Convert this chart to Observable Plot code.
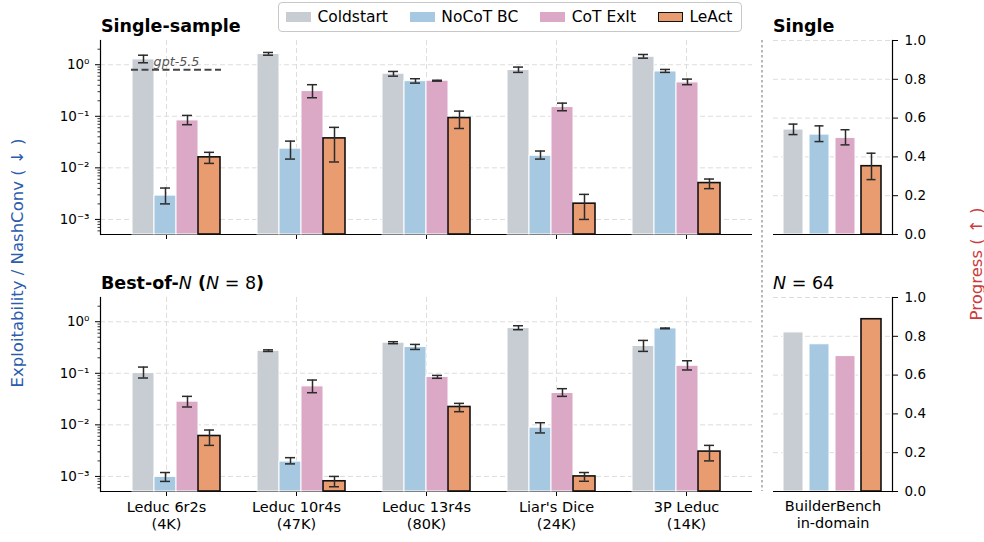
<!DOCTYPE html>
<html><head><meta charset="utf-8">
<script src="https://cdn.jsdelivr.net/npm/d3@7"></script>
<script src="https://cdn.jsdelivr.net/npm/@observablehq/plot@0.6"></script>
<style>
body{margin:0;background:#fff;}
#fig{position:relative;width:984px;height:542px;font-family:"DejaVu Sans",sans-serif;overflow:hidden;background:#fff;color:#000;}
.layer{position:absolute;}
.title{position:absolute;font-size:17.5px;line-height:18px;white-space:nowrap;}
.ylab{position:absolute;font-size:16.5px;white-space:nowrap;transform:translate(-50%,-50%) rotate(-90deg);}
#legend{position:absolute;left:278px;top:2px;width:464px;height:30px;border:1px solid #c8c8c8;border-radius:4px;display:flex;align-items:center;box-sizing:border-box;padding-left:7px;font-size:15.5px;white-space:nowrap;}
.sw{width:25px;height:9.5px;margin-right:6.4px;box-sizing:border-box;flex-shrink:0;}
.it{display:flex;align-items:center;margin-right:22px;flex-shrink:0;white-space:nowrap;}
.it:last-child{margin-right:0;}
</style></head><body><div id="fig"></div>
<script>
// ---------- data ----------
const groups = ["Leduc 6r2s", "Leduc 10r4s", "Leduc 13r4s", "Liar's Dice", "3P Leduc"];
const groupSizes = ["4K", "47K", "80K", "24K", "14K"];
const series = ["Coldstart", "NoCoT BC", "CoT ExIt", "LeAct"];
const seriesColors = ["#c8cdd4", "#a6c9e1", "#dba8c5", "#e99c70"];

// Single-sample (per series, per group)
const singleValue = [
  [1.27, 1.62, 0.67, 0.79, 1.43],
  [2.9e-3, 0.0236, 0.48, 0.0172, 0.741],
  [0.0833, 0.308, 0.49, 0.151, 0.454],
  [0.016, 0.0373, 0.0924, 2.02e-3, 5.07e-3]
];
const singleLo = [
  [1.09, 1.53, 0.60, 0.71, 1.34],
  [2.0e-3, 0.0148, 0.44, 0.0148, 0.71],
  [0.0687, 0.229, 0.48, 0.128, 0.41],
  [0.0122, 0.013, 0.058, 1.0e-3, 3.95e-3]
];
const singleHi = [
  [1.53, 1.73, 0.74, 0.90, 1.58],
  [4.06e-3, 0.033, 0.535, 0.0212, 0.81],
  [0.104, 0.41, 0.50, 0.18, 0.526],
  [0.020, 0.061, 0.126, 3.06e-3, 6.07e-3]
];
// Best-of-N (N=8)
const bestValue = [
  [0.101, 0.274, 0.392, 0.753, 0.338],
  [9.8e-4, 1.94e-3, 0.323, 8.83e-3, 0.742],
  [0.0282, 0.0558, 0.0847, 0.0415, 0.140],
  [6.08e-3, 8.05e-4, 0.0222, 1.0e-3, 3.03e-3]
];
const bestLo = [
  [0.081, 0.265, 0.375, 0.70, 0.266],
  [8.0e-4, 1.75e-3, 0.29, 6.97e-3, 0.73],
  [0.0222, 0.042, 0.080, 0.0357, 0.116],
  [4.0e-3, 6.3e-4, 0.018, 8.05e-4, 2.0e-3]
];
const bestHi = [
  [0.132, 0.285, 0.41, 0.836, 0.434],
  [1.19e-3, 2.31e-3, 0.363, 0.011, 0.755],
  [0.0357, 0.074, 0.091, 0.0503, 0.175],
  [7.94e-3, 1.0e-3, 0.0261, 1.19e-3, 4.0e-3]
];
const gptSingle = 0.80;   // gpt-5.5 reference, Leduc 6r2s

// BuilderBench in-domain progress (per series)
const builderSingle = [0.541, 0.515, 0.498, 0.352];
const builderSingleLo = [0.515, 0.479, 0.462, 0.283];
const builderSingleHi = [0.569, 0.560, 0.540, 0.419];
const builderN64 = [0.820, 0.759, 0.698, 0.888];

const yLogTicks = [1e-3, 1e-2, 1e-1, 1];
const yLinTicks = [0, 0.2, 0.4, 0.6, 0.8, 1.0];
const YMIN = 5.1e-4, YMAX = 2.95;

// ---------- helpers ----------
const fig = document.getElementById("fig");
const FONT = "DejaVu Sans";
const sizeOf = new Map(groups.map((g, i) => [g, groupSizes[i]]));
function place(node, left, top) {
  const d = document.createElement("div");
  d.className = "layer"; d.style.left = left + "px"; d.style.top = top + "px";
  d.appendChild(node); fig.appendChild(d); return d;
}
function rowsFor(vals, los, his) {
  const rows = [];
  series.forEach((s, si) => groups.forEach((g, gi) =>
    rows.push({group: g, series: s, value: vals[si][gi], lo: los[si][gi], hi: his[si][gi]})));
  return rows;
}
const supMap = {"-": "\u207B", "0": "\u2070", "1": "\u00B9", "2": "\u00B2", "3": "\u00B3"};
const logFmt = v => "10" + String(Math.round(Math.log10(v))).replace(/./g, c => supMap[c]);
const minorTicks = [];
for (let k = -4; k <= 0; k++) for (let m = 2; m <= 9; m++) {
  const v = m * Math.pow(10, k); if (v >= YMIN && v <= YMAX) minorTicks.push(v);
}
const grid = {stroke: "#d9d9d9", strokeOpacity: 1, strokeWidth: 0.9, strokeDasharray: "5,3"};
const fxOpts = {domain: groups, paddingInner: 0.28, paddingOuter: 0.248};

function logPanel(top, height, mb, rows, showLabels, gpt) {
  const common = {width: 760, height, marginLeft: 100, marginRight: 8, marginTop: 40, marginBottom: mb};
  const bg = Plot.plot({
    ...common,
    style: {fontFamily: FONT, fontSize: "13.5px", color: "#000", background: "white"},
    x: {...fxOpts, axis: null},
    y: {type: "log", domain: [YMIN, YMAX], axis: null},
    marks: [
      Plot.gridY(yLogTicks, grid),
      Plot.gridX(groups, grid),
      Plot.ruleY([YMIN], {stroke: "#000", strokeWidth: 1.2}),
      Plot.frame({anchor: "left", stroke: "#000", strokeWidth: 1.2}),
      Plot.axisY(minorTicks, {tickSize: 2.5, text: null, label: null, strokeWidth: 0.8}),
      Plot.axisY(yLogTicks, {tickSize: 5, tickPadding: 6, tickFormat: logFmt, label: null, fontSize: 13.5}),
      showLabels
        ? Plot.axisX(groups, {tickSize: 5, tickPadding: 3, tickFormat: g => g + "\n(" + sizeOf.get(g) + ")", label: null, fontSize: 14.5, lineHeight: 1.18})
        : Plot.axisX(groups, {tickSize: 5, text: null, label: null})
    ]
  });
  place(bg, 0, top);
  const marks = [
    Plot.barY(rows, {filter: d => d.series !== "LeAct", fx: "group", x: "series", y1: YMIN, y2: "value", fill: "series", stroke: "#fff", strokeWidth: 1}),
    Plot.barY(rows, {filter: d => d.series === "LeAct", fx: "group", x: "series", y1: YMIN, y2: "value", fill: "series", stroke: "#111", strokeWidth: 1.6}),
    Plot.ruleX(rows, {fx: "group", x: "series", y1: "lo", y2: "hi", stroke: "#2b2b2b", strokeWidth: 1.5}),
    Plot.tickY(rows, {fx: "group", x: "series", y: "lo", stroke: "#2b2b2b", strokeWidth: 1.5, insetLeft: 6, insetRight: 6}),
    Plot.tickY(rows, {fx: "group", x: "series", y: "hi", stroke: "#2b2b2b", strokeWidth: 1.5, insetLeft: 6, insetRight: 6})
  ];
  if (gpt != null) {
    const ref = [{group: groups[0], value: gpt, label: "gpt-5.5"}];
    marks.push(Plot.ruleY(ref, {fx: "group", y: "value", stroke: "#444", strokeWidth: 2, strokeDasharray: "7,3.5"}));
    marks.push(Plot.text(ref, {fx: "group", y: "value", text: "label", dy: -8, fontStyle: "italic", fill: "#555", fontSize: 12.7, textAnchor: "middle"}));
  }
  const fg = Plot.plot({
    ...common,
    style: {fontFamily: FONT, fontSize: "13.5px", color: "#000", background: "transparent"},
    fx: {...fxOpts, axis: null},
    x: {domain: series, padding: 0, axis: null},
    y: {type: "log", domain: [YMIN, YMAX], axis: null},
    color: {domain: series, range: seriesColors},
    marks
  });
  place(fg, 0, top);
}

function linPanel(top, height, mb, vals, los, his, xlabel) {
  const rows = series.map((s, i) => ({series: s, value: vals[i], lo: los ? los[i] : null, hi: his ? his[i] : null}));
  const marks = [
    Plot.gridY(yLinTicks.slice(1), grid),
    Plot.barY(rows, {filter: d => d.series !== "LeAct", x: "series", y: "value", fill: "series", stroke: "#fff", strokeWidth: 1}),
    Plot.barY(rows, {filter: d => d.series === "LeAct", x: "series", y: "value", fill: "series", stroke: "#111", strokeWidth: 1.6})
  ];
  if (los) {
    marks.push(Plot.ruleX(rows, {x: "series", y1: "lo", y2: "hi", stroke: "#2b2b2b", strokeWidth: 1.5}));
    marks.push(Plot.tickY(rows, {x: "series", y: "lo", stroke: "#2b2b2b", strokeWidth: 1.5, insetLeft: 5.5, insetRight: 5.5}));
    marks.push(Plot.tickY(rows, {x: "series", y: "hi", stroke: "#2b2b2b", strokeWidth: 1.5, insetLeft: 5.5, insetRight: 5.5}));
  }
  marks.push(Plot.ruleY([0], {stroke: "#000", strokeWidth: 1.2}));
  marks.push(Plot.frame({anchor: "right", stroke: "#000", strokeWidth: 1.2}));
  marks.push(Plot.axisY(yLinTicks, {anchor: "right", tickSize: 5, tickPadding: 7, tickFormat: d3.format(".1f"), label: null, fontSize: 13.5}));
  if (xlabel) marks.push(Plot.text([xlabel], {frameAnchor: "bottom", lineAnchor: "top", dy: 7, fontSize: 14.5, lineHeight: 1.18}));
  const p = Plot.plot({
    width: 222, height, marginLeft: 11, marginRight: 92, marginTop: 40, marginBottom: mb,
    style: {fontFamily: FONT, fontSize: "13.5px", color: "#000", background: "transparent"},
    x: {domain: series, paddingInner: 0.22, paddingOuter: 0.314, axis: null},
    y: {domain: [0, 1], axis: null},
    color: {domain: series, range: seriesColors},
    marks
  });
  place(p, 762, top);
}

logPanel(0, 250, 16, rowsFor(singleValue, singleLo, singleHi), false, gptSingle);
logPanel(257, 285, 51, rowsFor(bestValue, bestLo, bestHi), true, null);
linPanel(0, 250, 16, builderSingle, builderSingleLo, builderSingleHi, null);
linPanel(257, 285, 51, builderN64, null, null, "BuilderBench\nin-domain");

// divider
const ns = "http://www.w3.org/2000/svg";
const dv = document.createElementNS(ns, "svg");
dv.setAttribute("width", 6); dv.setAttribute("height", 542);
const ln = document.createElementNS(ns, "line");
ln.setAttribute("x1", 3); ln.setAttribute("x2", 3); ln.setAttribute("y1", 40); ln.setAttribute("y2", 491);
ln.setAttribute("stroke", "#a0a0a0"); ln.setAttribute("stroke-width", 1.5); ln.setAttribute("stroke-dasharray", "2.5,2.5");
dv.appendChild(ln);
place(dv, 759, 0);

// titles
function addTitle(html, left, top, bold) {
  const d = document.createElement("div"); d.className = "title";
  d.style.left = left + "px"; d.style.top = top + "px"; d.style.fontWeight = bold ? "bold" : "normal";
  d.innerHTML = html; fig.appendChild(d);
}
addTitle("Single-sample", 101, 17, true);
addTitle('Best-of-<i style="font-weight:normal">N</i> (<span style="font-weight:normal"><i>N</i> = 8</span>)', 101, 274, true);
addTitle("Single", 773, 17, true);
addTitle("<i>N</i> = 64", 773, 274, false);

// axis labels
function addYLab(text, cx, cy, color) {
  const d = document.createElement("div"); d.className = "ylab";
  d.style.left = cx + "px"; d.style.top = cy + "px"; d.style.color = color;
  d.textContent = text; fig.appendChild(d);
}
addYLab("Exploitability / NashConv ( \u2193 )", 17, 263, "#2b5cad");
addYLab("Progress ( \u2191 )", 976, 264, "#cc3b3b");

// legend
const lg = document.createElement("div"); lg.id = "legend";
series.forEach((s, i) => {
  const it = document.createElement("div"); it.className = "it";
  const sw = document.createElement("div"); sw.className = "sw";
  sw.style.background = seriesColors[i];
  if (s === "LeAct") sw.style.border = "1.5px solid #111";
  const tx = document.createElement("span"); tx.textContent = s;
  it.appendChild(sw); it.appendChild(tx); lg.appendChild(it);
});
fig.appendChild(lg);
</script></body></html>
